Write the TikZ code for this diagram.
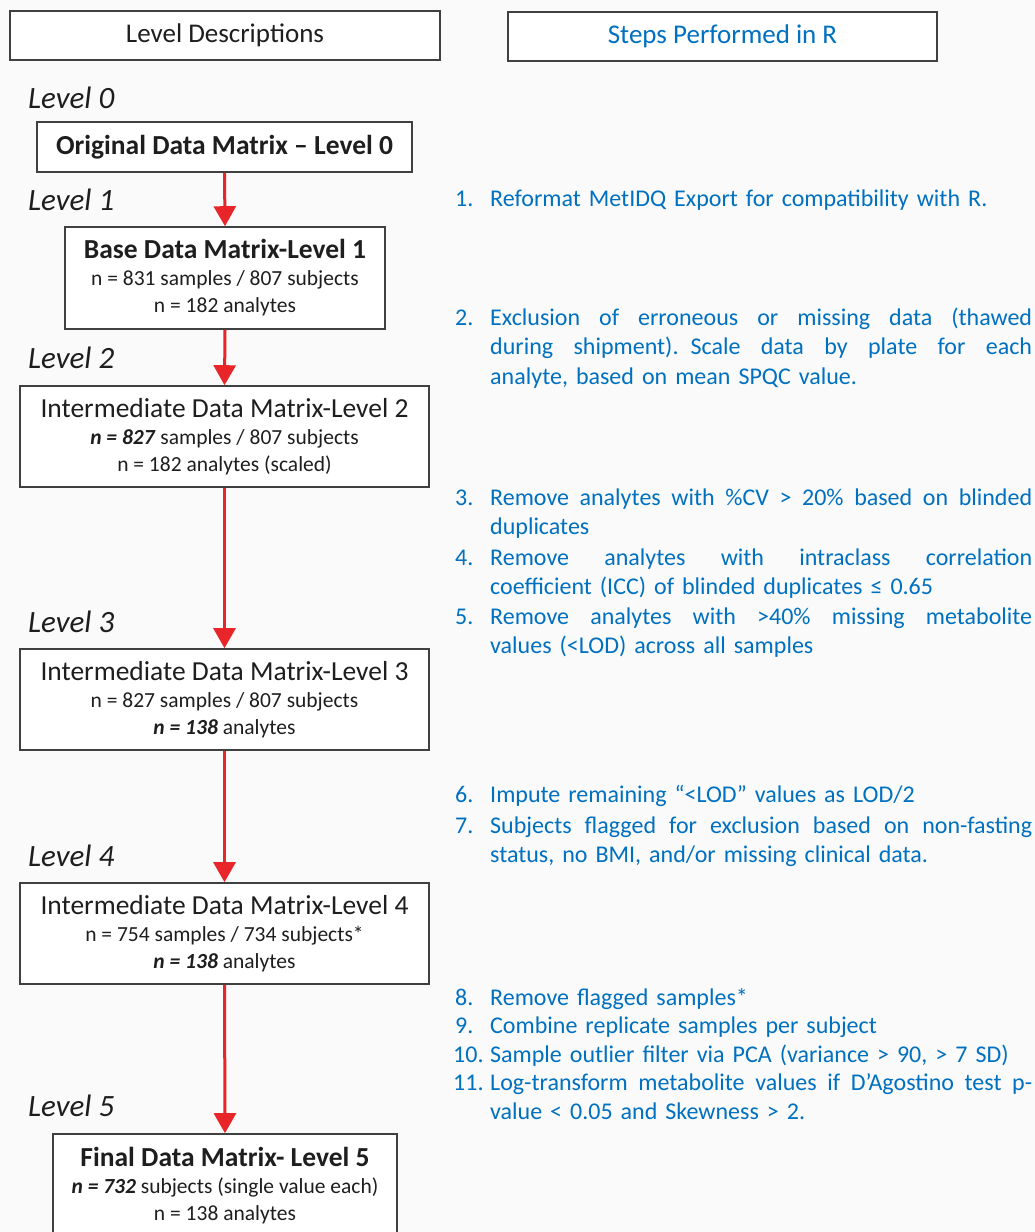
\documentclass[tikz,border=0pt]{standalone}
\usepackage{fontspec}
\setmainfont{Carlito}
\usetikzlibrary{arrows.meta}
\definecolor{bg}{RGB}{250,250,250}
\definecolor{rblue}{RGB}{0,112,192}
\definecolor{rred}{RGB}{232,38,42}
\definecolor{bord}{RGB}{64,64,64}
\definecolor{txt}{RGB}{30,30,30}
\newcommand{\bxt}[1]{{\fontsize{27.5}{27}\selectfont #1}}
\newcommand{\jl}[1]{\leavevmode\hbox to 542pt{\spaceskip=0.226em plus 1fil\relax #1}}
\begin{document}
\begin{tikzpicture}[x=1pt,y=-1pt,
  hdr/.style={draw=bord, line width=1.6pt, fill=white, inner sep=0pt, font=\fontsize{27}{32}\selectfont},
  lvbox/.style={draw=bord, line width=1.6pt, fill=white, inner sep=0pt, align=center, text=txt, font=\fontsize{21.5}{27}\selectfont},
  lvlabel/.style={anchor=base west, inner sep=0pt, text=txt, font=\fontsize{31}{36}\selectfont\itshape},
  num/.style={anchor=base west, inner sep=0pt, text=rblue, font=\fontsize{24}{29.5}\selectfont},
  item/.style={anchor=base west, inner sep=0pt, text=rblue, text width=560pt, align=left, font=\fontsize{24}{29.5}\selectfont},
  flow/.style={draw=rred, line width=3pt, -{Triangle[length=20pt,width=22pt]}}
]
\useasboundingbox (0,0) rectangle (1035,1232);
\clip (0,0) rectangle (1035,1232);
\fill[bg] (0,0) rectangle (1035,1232);

% headers
\node[hdr, minimum width=430pt, minimum height=49pt, text=txt] (h1) at (225,35.5) {Level Descriptions};
\node[hdr, minimum width=429pt, minimum height=49pt, text=rblue] (h2) at (722.5,36.5) {Steps Performed in R};

% level labels
\node[lvlabel] (L0) at (28,108) {Level 0};
\node[lvlabel] (L1) at (28,210) {Level 1};
\node[lvlabel] (L2) at (28,368) {Level 2};
\node[lvlabel] (L3) at (28,632) {Level 3};
\node[lvlabel] (L4) at (28,866) {Level 4};
\node[lvlabel] (L5) at (28,1116) {Level 5};

% boxes
\node[lvbox, minimum width=375pt, minimum height=50pt] (b0) at (224.5,147) {\bxt{\bfseries Original Data Matrix – Level 0}};
\node[lvbox, minimum width=320pt, minimum height=102pt] (b1) at (225,278) {\bxt{\bfseries Base Data Matrix-Level 1}\\ n = 831 samples / 807 subjects\\ n = 182 analytes};
\node[lvbox, minimum width=409pt, minimum height=101pt] (b2) at (224.5,436.5) {\bxt{Intermediate Data Matrix-Level 2}\\ \textbf{\textit{n = 827}} samples / 807 subjects\\ n = 182 analytes (scaled)};
\node[lvbox, minimum width=409pt, minimum height=101pt] (b3) at (224.5,699.5) {\bxt{Intermediate Data Matrix-Level 3}\\ n = 827 samples / 807 subjects\\ \textbf{\textit{n = 138}} analytes};
\node[lvbox, minimum width=409pt, minimum height=101pt] (b4) at (224.5,933.5) {\bxt{Intermediate Data Matrix-Level 4}\\ n = 754 samples / 734 subjects*\\ \textbf{\textit{n = 138}} analytes};
\node[lvbox, minimum width=344pt, minimum height=103pt] (b5) at (225,1185.5) {\bxt{\bfseries Final Data Matrix- Level 5}\\ \textbf{\textit{n = 732}} subjects (single value each)\\ n = 138 analytes};

% arrows
\draw[flow] (b0.south) -- (b1.north);
\draw[flow] (b1.south) -- (b2.north);
\draw[flow] (b2.south) -- (b3.north);
\draw[flow] (b3.south) -- (b4.north);
\draw[flow] (b4.south) -- (b5.north);

% steps
\node[num] (n1) at (455,206) {1.};
\node[item] (s1) at (490,206) {Reformat MetIDQ Export for compatibility with R.};
\node[num] (n2) at (455,325) {2.};
\node[item] (s2) at (490,325) {\jl{Exclusion of erroneous or missing data (thawed}\\ \jl{during shipment). Scale data by plate for each}\\ analyte, based on mean SPQC value.};
\node[num] (n3) at (455,505) {3.};
\node[item] (s3) at (490,505) {\jl{Remove analytes with \%CV > 20\% based on blinded}\\ duplicates};
\node[num] (n4) at (455,565) {4.};
\node[item] (s4) at (490,565) {\jl{Remove analytes with intraclass correlation}\\ coefficient (ICC) of blinded duplicates ≤ 0.65};
\node[num] (n5) at (455,624) {5.};
\node[item] (s5) at (490,624) {\jl{Remove analytes with >40\% missing metabolite}\\ values (<LOD) across all samples};
\node[num] (n6) at (455,802) {6.};
\node[item] (s6) at (490,802) {Impute remaining “<LOD” values as LOD/2};
\node[num] (n7) at (455,833) {7.};
\node[item] (s7) at (490,833) {\jl{Subjects flagged for exclusion based on non-fasting}\\ status, no BMI, and/or missing clinical data.};
\node[num] (n8) at (455,1005) {8.};
\node[item] (s8) at (490,1005) {Remove flagged samples*};
\node[num] (n9) at (455,1033) {9.};
\node[item] (s9) at (490,1033) {Combine replicate samples per subject};
\node[num] (n10) at (453,1062) {10.};
\node[item] (s10) at (490,1062) {Sample outlier filter via PCA (variance > 90, > 7 SD)};
\node[num] (n11) at (453,1090) {11.};
\node[item] (s11) at (490,1090) {\jl{Log-transform metabolite values if D’Agostino test p-}\\ value < 0.05 and Skewness > 2.};
\end{tikzpicture}
\end{document}
